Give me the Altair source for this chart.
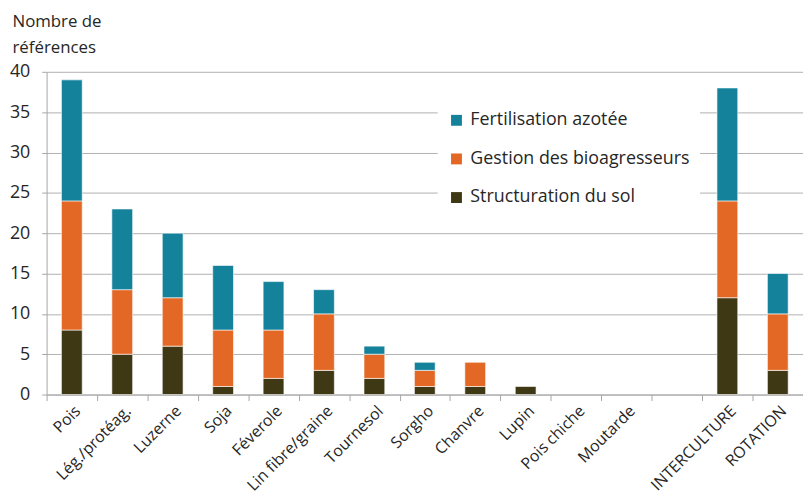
import altair as alt
import pandas as pd

categories = ["Pois", "Lég./protéag.", "Luzerne", "Soja", "Féverole", "Lin fibre/graine",
              "Tournesol", "Sorgho", "Chanvre", "Lupin", "Pois chiche", "Moutarde", " ",
              "INTERCULTURE", "ROTATION"]
structuration = [8, 5, 6, 1, 2, 3, 2, 1, 1, 1, 0, 0, 0, 12, 3]
gestion = [16, 8, 6, 7, 6, 7, 3, 2, 3, 0, 0, 0, 0, 12, 7]
fertilisation = [15, 10, 8, 8, 6, 3, 1, 1, 0, 0, 0, 0, 0, 14, 5]

series = ["Fertilisation azotée", "Gestion des bioagresseurs", "Structuration du sol"]
colors = ["#15829C", "#E46825", "#3E3814"]

rows = []
for i, c in enumerate(categories):
    for s, vals, o in [(series[2], structuration, 0), (series[1], gestion, 1), (series[0], fertilisation, 2)]:
        if vals[i] > 0:
            rows.append({"cat": c, "serie": s, "val": vals[i], "ord": o})
df = pd.DataFrame(rows)

font = "Open Sans"
txt = "#262626"

chart = alt.Chart(df).mark_bar(size=21, stroke="white", strokeWidth=0.6).encode(
    x=alt.X("cat:N", sort=categories, title=None,
            scale=alt.Scale(domain=categories, paddingInner=0, paddingOuter=0),
            axis=alt.Axis(labelAngle=-45, tickBand="extent", labelFontSize=16, labelFont=font,
                          labelColor=txt, tickSize=6, labelPadding=2, grid=False,
                          labelLimit=300)),
    y=alt.Y("val:Q", stack="zero", scale=alt.Scale(domain=[0, 40]),
            axis=alt.Axis(values=list(range(0, 45, 5)), labelFontSize=18, labelFont=font,
                          labelColor=txt, tickSize=5, labelPadding=12,
                          title=["Nombre de", "références"], titleAngle=0, titleAlign="left",
                          titleBaseline="top", titleX=-35, titleY=-59, titleFontSize=17,
                          titleFont=font, titleFontWeight="normal", titleColor=txt,
                          titleLineHeight=27)),
    order=alt.Order("ord:Q", sort="ascending"),
    color=alt.Color("serie:N", scale=alt.Scale(domain=series, range=colors),
                    legend=alt.Legend(title=None, orient="none", legendX=395, legendY=30,
                                      fillColor="white", padding=10, symbolType="square",
                                      symbolSize=121, labelFontSize=18, labelFont=font,
                                      labelColor=txt, rowPadding=21, symbolStrokeWidth=0,
                                      labelOffset=5, labelLimit=400)),
).properties(
    width=764, height=326,
    autosize=alt.AutoSizeParams(type="none"),
    padding={"left": 39, "top": 62, "right": 0, "bottom": 98},
).configure_view(stroke=None).configure_axis(
    domainColor="#A6A6A6", tickColor="#A6A6A6", gridColor="#B0B0B0"
)

chart.save("out.html", embed_options={"renderer": "svg", "actions": False})
